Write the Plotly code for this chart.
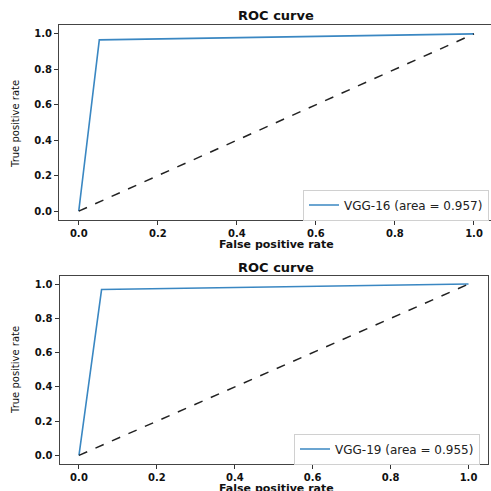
import plotly.graph_objects as go

# Data
fpr_vgg16 = [0.0, 0.052, 1.0]
tpr_vgg16 = [0.0, 0.966, 1.0]
fpr_vgg19 = [0.0, 0.058, 1.0]
tpr_vgg19 = [0.0, 0.968, 1.0]
chance_x = [0.0, 1.0]
chance_y = [0.0, 1.0]
labels = ["VGG-16 (area = 0.957)", "VGG-19 (area = 0.955)"]
tick_vals = [0.0, 0.2, 0.4, 0.6, 0.8, 1.0]
tick_text = ["0.0", "0.2", "0.4", "0.6", "0.8", "1.0"]

W = H = 491
BLUE = "#3a87c2"
FONT = "DejaVu Sans"

def px_x(p):
    return p / W

def px_y(p):
    return 1 - p / H

fig = go.Figure()

# top panel
fig.add_trace(go.Scatter(x=fpr_vgg16, y=tpr_vgg16, mode="lines", name=labels[0],
                         line=dict(color=BLUE, width=1.6), xaxis="x", yaxis="y", legend="legend"))
fig.add_trace(go.Scatter(x=chance_x, y=chance_y, mode="lines", showlegend=False,
                         line=dict(color="#222222", width=1.5, dash="dash"), xaxis="x", yaxis="y"))
# bottom panel
fig.add_trace(go.Scatter(x=fpr_vgg19, y=tpr_vgg19, mode="lines", name=labels[1],
                         line=dict(color=BLUE, width=1.6), xaxis="x2", yaxis="y2", legend="legend2"))
fig.add_trace(go.Scatter(x=chance_x, y=chance_y, mode="lines", showlegend=False,
                         line=dict(color="#222222", width=1.5, dash="dash"), xaxis="x2", yaxis="y2"))

tickfont = dict(family=FONT, size=10, color="#111111", weight="bold")
axis_common = dict(showgrid=False, zeroline=False, showline=True, linecolor="#444444", linewidth=1,
                   mirror=True, ticks="outside", ticklen=4, tickwidth=1, tickcolor="#333333",
                   tickvals=tick_vals, ticktext=tick_text, tickfont=tickfont)

fig.update_layout(
    xaxis=dict(domain=[px_x(59), 1.0], range=[-0.05, 1 + (491 - 474) / 395], anchor="y", **axis_common),
    yaxis=dict(domain=[px_y(220), px_y(25)], range=[-0.05, 1.05], anchor="x", **axis_common),
    xaxis2=dict(domain=[px_x(59.5), px_x(488)], range=[-0.05, 1.05], anchor="y2", **axis_common),
    yaxis2=dict(domain=[px_y(464), px_y(275.5)], range=[-0.05, 1.05], anchor="x2", **axis_common),
)

legend_common = dict(bgcolor="white", bordercolor="#d0d0d0", borderwidth=1,
                     font=dict(family=FONT, size=12, color="#222222"),
                     xanchor="right", yanchor="middle", itemwidth=30, tracegroupgap=0)
fig.update_layout(
    legend=dict(x=px_x(489), y=px_y(205), **legend_common),
    legend2=dict(x=px_x(480), y=px_y(449), **legend_common),
)

annots = []
title_font = dict(family=FONT, size=13, color="#111111", weight="bold")
xlab_font = dict(family=FONT, size=11, color="#111111", weight="bold")
ylab_font = dict(family=FONT, size=10, color="#111111")
for ty, xly, ylx, yly in [(15, 244, 15, 124), (267, 488, 15, 370)]:
    annots.append(dict(text="ROC curve", x=px_x(276), y=px_y(ty), xref="paper", yref="paper",
                       showarrow=False, font=title_font, xanchor="center", yanchor="middle"))
    annots.append(dict(text="False positive rate", x=px_x(276), y=px_y(xly), xref="paper", yref="paper",
                       showarrow=False, font=xlab_font, xanchor="center", yanchor="middle"))
    annots.append(dict(text="True positive rate", x=px_x(ylx), y=px_y(yly), xref="paper", yref="paper",
                       showarrow=False, font=ylab_font, textangle=-90, xanchor="center", yanchor="middle"))

fig.update_layout(
    width=W, height=H, margin=dict(l=0, r=0, t=0, b=0),
    paper_bgcolor="white", plot_bgcolor="white",
    annotations=annots,
)

fig.write_html("out.html", config={"displayModeBar": False},
               post_script="document.body.style.margin='0';document.body.style.overflow='hidden';")
